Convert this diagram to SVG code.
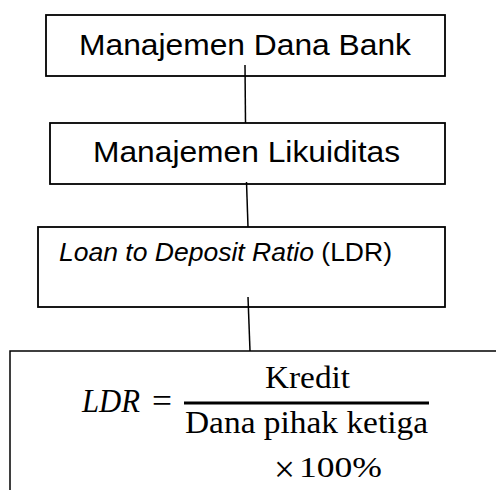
<svg xmlns="http://www.w3.org/2000/svg" width="496" height="490" viewBox="0 0 496 490">
<style>
.box{fill:#fff;stroke:#000;stroke-width:1.8}
.sans{font-family:"Liberation Sans",Arial,sans-serif;fill:#000}
.serif{font-family:"Liberation Serif","Times New Roman",serif;fill:#000}
.conn{stroke:#000;stroke-width:1.5;fill:none}
</style>
<rect width="496" height="490" fill="#fff"/>
<g id="n1">
<rect class="box" x="46" y="15" width="399" height="61"/>
<text class="sans" x="79" y="55" font-size="29" textLength="332" lengthAdjust="spacingAndGlyphs">Manajemen Dana Bank</text>
</g>
<g id="n2">
<rect class="box" x="50" y="123" width="395" height="61"/>
<text class="sans" x="93" y="162" font-size="29" textLength="307" lengthAdjust="spacingAndGlyphs">Manajemen Likuiditas</text>
</g>
<g id="n3">
<rect class="box" x="38" y="227" width="407" height="80"/>
<text class="sans" x="59" y="261" font-size="26.5" textLength="333" lengthAdjust="spacingAndGlyphs"><tspan font-style="italic">Loan to Deposit Ratio</tspan> (LDR)</text>
</g>
<g id="n4">
<path class="conn" d="M10,491 V351 H497" stroke-width="1.8"/>
<text class="serif" x="82" y="412" font-size="33" font-style="italic" textLength="58" lengthAdjust="spacingAndGlyphs">LDR</text>
<text class="serif" x="152" y="412" font-size="34" textLength="20" lengthAdjust="spacingAndGlyphs">=</text>
<text class="serif" x="265" y="388" font-size="32" textLength="85" lengthAdjust="spacingAndGlyphs">Kredit</text>
<line x1="184" y1="403" x2="429" y2="403" stroke="#000" stroke-width="3"/>
<text class="serif" x="185" y="433" font-size="32" textLength="243" lengthAdjust="spacingAndGlyphs">Dana pihak ketiga</text>
<text class="serif" x="274" y="482" font-size="38" textLength="21" lengthAdjust="spacingAndGlyphs">×</text>
<text class="serif" x="299" y="477" font-size="29" textLength="83" lengthAdjust="spacingAndGlyphs">100%</text>
</g>
<g id="connectors">
<line class="conn" x1="245" y1="65" x2="245.5" y2="123"/>
<line class="conn" x1="246.5" y1="182" x2="248" y2="227"/>
<line class="conn" x1="248" y1="297" x2="250" y2="351"/>
</g>
</svg>
